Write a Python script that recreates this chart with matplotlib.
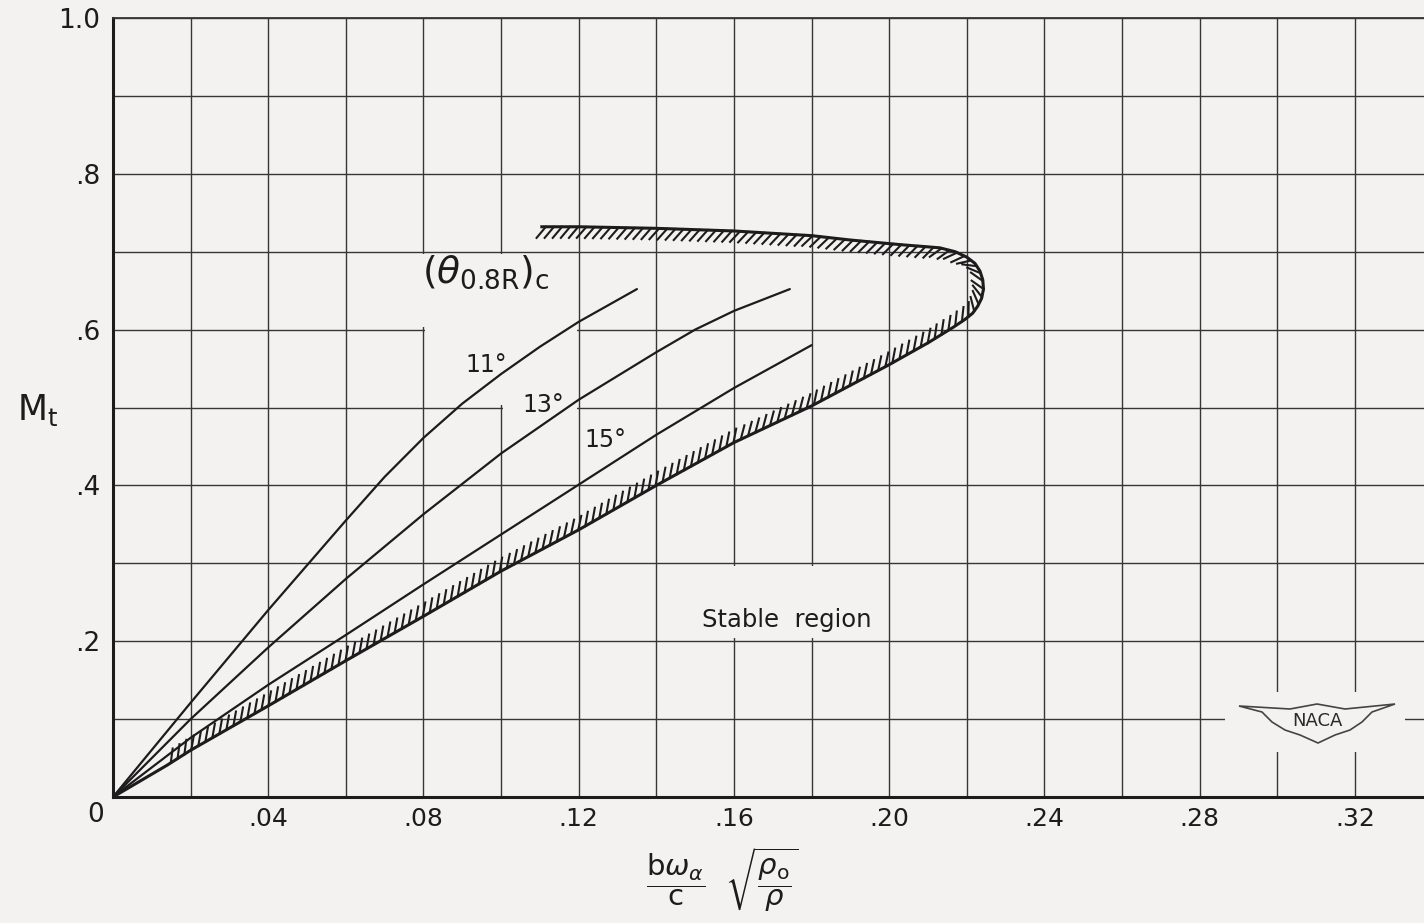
import matplotlib
matplotlib.use("Agg")
import numpy as np
import matplotlib.pyplot as plt
import matplotlib.patheffects as pe
from matplotlib.patches import Polygon, Rectangle

plt.rcParams["font.family"] = ["DejaVu Sans"]
plt.rcParams["mathtext.fontset"] = "dejavusans"

# --- values ----------------------------------------------------------------
# theta = 11 deg
x_11 = [0, 0.02, 0.04, 0.06, 0.07, 0.08, 0.09, 0.10, 0.11, 0.12, 0.135]
y_11 = [0, 0.121, 0.240, 0.355, 0.411, 0.461, 0.505, 0.543, 0.578, 0.610,
        0.652]
# theta = 13 deg
x_13 = [0, 0.02, 0.04, 0.06, 0.08, 0.10, 0.12, 0.14, 0.15, 0.16, 0.1744]
y_13 = [0, 0.100, 0.192, 0.280, 0.363, 0.441, 0.510, 0.571, 0.600, 0.624,
        0.652]
# theta = 15 deg
x_15 = [0, 0.02, 0.04, 0.06, 0.08, 0.10, 0.12, 0.14, 0.16, 0.18]
y_15 = [0, 0.076, 0.144, 0.208, 0.273, 0.337, 0.401, 0.465, 0.525, 0.580]
# stability boundary (lower branch -> nose -> upper branch)
x_bound = [0, 0.014, 0.02, 0.04, 0.06, 0.08, 0.10, 0.12, 0.14, 0.16, 0.18,
           0.20, 0.21, 0.2165, 0.2195, 0.2215, 0.2228, 0.2238, 0.2243,
           0.2241, 0.2234, 0.2221, 0.2200, 0.2170, 0.213, 0.203, 0.19,
           0.18, 0.16, 0.14, 0.12, 0.1105]
y_bound = [0, 0.041, 0.060, 0.117, 0.175, 0.232, 0.290, 0.343, 0.400, 0.455,
           0.502, 0.555, 0.583, 0.603, 0.613, 0.621, 0.630, 0.640, 0.652,
           0.664, 0.675, 0.685, 0.693, 0.700, 0.705, 0.709, 0.715, 0.7206,
           0.7266, 0.730, 0.732, 0.732]
hatch_start = 1

x_ticks = [0.04, 0.08, 0.12, 0.16, 0.20, 0.24, 0.28, 0.32]
x_ticklabels = [".04", ".08", ".12", ".16", ".20", ".24", ".28", ".32"]
y_ticks = [0.2, 0.4, 0.6, 0.8, 1.0]
y_ticklabels = [".2", ".4", ".6", ".8", "1.0"]

curve_labels = ["11\u00b0", "13\u00b0", "15\u00b0"]
curve_label_pos = [(0.0963, 0.555), (0.111, 0.503), (0.127, 0.458)]

BG = "#f4f1f1"
INK = "#1c1c1c"
GRID = "#363636"

fig = plt.figure(figsize=(14.24, 9.23), dpi=100, facecolor=BG)
ax = fig.add_axes([113 / 1424, 126 / 923, 1311 / 1424, 779 / 923])
ax.set_facecolor(BG)
ax.set_xlim(0, 0.3378)
ax.set_ylim(0, 1.0)

# grid
ax.set_xticks(x_ticks)
ax.set_xticklabels(x_ticklabels)
ax.set_xticks(np.arange(0.02, 0.34, 0.02), minor=True)
ax.set_yticks(y_ticks)
ax.set_yticklabels(y_ticklabels)
ax.set_yticks(np.arange(0.1, 1.0, 0.1), minor=True)
ax.set_axisbelow(True)
ax.grid(which="both", color=GRID, lw=1.0)
ax.tick_params(which="both", length=0)
ax.tick_params(axis="x", pad=7, labelsize=18, colors=INK)
ax.tick_params(axis="y", pad=9, labelsize=19, colors=INK)
for s in ["left", "bottom"]:
    ax.spines[s].set_linewidth(2.2)
    ax.spines[s].set_color(INK)
ax.spines["top"].set_linewidth(1.3)
ax.spines["top"].set_color(GRID)
ax.spines["right"].set_visible(False)

# blank patches where the draftsman left the grid out
cut = Polygon([(0.0775, 0.6035), (0.0775, 0.697), (0.1195, 0.697),
               (0.1195, 0.4965), (0.1004, 0.4965), (0.1004, 0.5035),
               (0.0805, 0.5035), (0.0805, 0.6035)],
              closed=True, facecolor=BG, edgecolor="none", zorder=2)
ax.add_patch(cut)
ax.add_patch(Rectangle((0.1405, 0.2035), 0.059, 0.093, facecolor=BG,
                       edgecolor="none", zorder=2))
ax.add_patch(Rectangle((0.2865, 0.058), 0.0465, 0.077, facecolor=BG,
                       edgecolor="none", zorder=2))

# curves
for xs, ys in [(x_11, y_11), (x_13, y_13), (x_15, y_15)]:
    ax.plot(xs, ys, color=INK, lw=1.6, zorder=3, solid_capstyle="round",
            solid_joinstyle="round")

ax.plot(x_bound, y_bound, color=INK, lw=2.2, zorder=3,
        solid_joinstyle="round")
ax.plot(x_bound[hatch_start:], y_bound[hatch_start:], color=INK, lw=1.5,
        zorder=3,
        path_effects=[pe.TickedStroke(spacing=5.8, angle=50, length=1.8)])

# labels
for txt, (lx, ly) in zip(curve_labels, curve_label_pos):
    ax.text(lx, ly, txt, fontsize=17, ha="center", va="center", color=INK,
            zorder=4)
ax.text(0.0962, 0.674,
        r"$\left(\theta_{\mathregular{0.8R}}\right)_{\mathregular{c}}$",
        fontsize=27, ha="center", va="center", color=INK, zorder=4)
ax.text(0.1737, 0.227, "Stable  region", fontsize=17.5, ha="center",
        va="center", color=INK, zorder=4)
ax.text(-0.0046, -0.023, "0", fontsize=19, ha="center", va="center",
        color=INK, clip_on=False)

fig.text(38 / 1424, 1 - 410 / 923, r"M$_\mathregular{t}$", fontsize=25,
         ha="center", va="center", color=INK)
fig.text(722 / 1424, 1 - 880 / 923,
         r"$\dfrac{\mathregular{b}\omega_{\alpha}}{\mathregular{c}}\ \ "
         r"\sqrt{\dfrac{\rho_{\mathregular{o}}}{\rho}}$",
         fontsize=21, ha="center", va="center", color=INK)

# NACA wing badge (pixel outline mapped to axes fraction)
wing_px = [(1239, 706), (1290, 709), (1317, 704), (1345, 709), (1395, 704),
           (1372, 712), (1362, 722), (1350, 730), (1335, 735), (1318, 743),
           (1300, 735), (1285, 730), (1272, 722), (1262, 712)]
wing = [((px - 113) / 1311, (797 - py) / 779) for px, py in wing_px]
ax.add_patch(Polygon(wing, closed=True, facecolor="none", edgecolor="#444444",
                     lw=1.2, transform=ax.transAxes, zorder=4))
ax.text((1317 - 113) / 1311, (797 - 721) / 779, "NACA", fontsize=13,
        ha="center", va="center", color="#2a2a2a", transform=ax.transAxes,
        zorder=5)

fig.savefig("out.png", dpi=100, facecolor=BG)
